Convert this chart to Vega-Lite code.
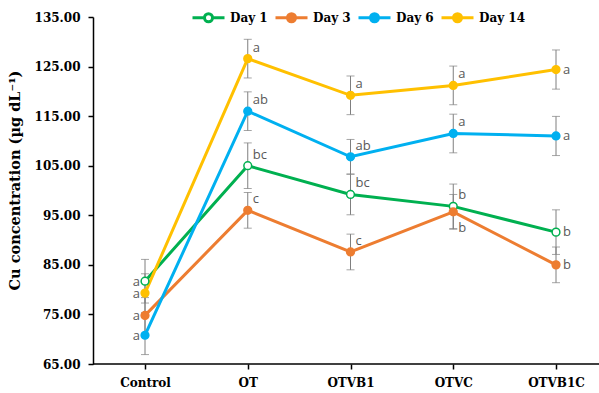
{
  "$schema": "https://vega.github.io/schema/vega-lite/v6.json",
  "autosize": "none",
  "width": 506,
  "height": 347,
  "padding": {"left": 93, "top": 17, "right": 0, "bottom": 29},
  "background": "white",
  "config": {"view": {"stroke": null}},
  "data": {"values": [
    {"Treatment": "Control", "Day": "Day 1", "value": 81.7, "err": 4.4, "letter": "a"},
    {"Treatment": "Control", "Day": "Day 3", "value": 74.8, "err": 3.6, "letter": "a"},
    {"Treatment": "Control", "Day": "Day 6", "value": 70.8, "err": 3.9, "letter": "a"},
    {"Treatment": "Control", "Day": "Day 14", "value": 79.3, "err": 3.9, "letter": "a"},
    {"Treatment": "OT", "Day": "Day 1", "value": 105.0, "err": 4.6, "letter": "bc"},
    {"Treatment": "OT", "Day": "Day 3", "value": 96.0, "err": 3.6, "letter": "c"},
    {"Treatment": "OT", "Day": "Day 6", "value": 116.0, "err": 3.9, "letter": "ab"},
    {"Treatment": "OT", "Day": "Day 14", "value": 126.6, "err": 3.9, "letter": "a"},
    {"Treatment": "OTVB1", "Day": "Day 1", "value": 99.2, "err": 4.1, "letter": "bc"},
    {"Treatment": "OTVB1", "Day": "Day 3", "value": 87.6, "err": 3.6, "letter": "c"},
    {"Treatment": "OTVB1", "Day": "Day 6", "value": 106.8, "err": 3.5, "letter": "ab"},
    {"Treatment": "OTVB1", "Day": "Day 14", "value": 119.2, "err": 3.9, "letter": "a"},
    {"Treatment": "OTVC", "Day": "Day 1", "value": 96.8, "err": 4.5, "letter": "b"},
    {"Treatment": "OTVC", "Day": "Day 3", "value": 95.7, "err": 3.5, "letter": "b"},
    {"Treatment": "OTVC", "Day": "Day 6", "value": 111.5, "err": 3.9, "letter": "a"},
    {"Treatment": "OTVC", "Day": "Day 14", "value": 121.2, "err": 3.9, "letter": "a"},
    {"Treatment": "OTVB1C", "Day": "Day 1", "value": 91.6, "err": 4.5, "letter": "b"},
    {"Treatment": "OTVB1C", "Day": "Day 3", "value": 85.0, "err": 3.6, "letter": "b"},
    {"Treatment": "OTVB1C", "Day": "Day 6", "value": 111.0, "err": 3.95, "letter": "a"},
    {"Treatment": "OTVB1C", "Day": "Day 14", "value": 124.4, "err": 3.95, "letter": "a"}
  ]},
  "encoding": {
    "x": {
      "field": "Treatment", "type": "nominal",
      "sort": ["Control", "OT", "OTVB1", "OTVC", "OTVB1C"],
      "scale": {"type": "point", "range": [52, 463], "padding": 0},
      "axis": {
        "title": null, "domain": false, "ticks": true, "tickColor": "black", "tickWidth": 1.5, "tickSize": 5,
        "labelFont": "DejaVu Serif", "labelFontWeight": "bold", "labelFontSize": 12, "labelColor": "black",
        "labelPadding": 8, "labelAngle": 0, "grid": false
      }
    },
    "y": {
      "field": "value", "type": "quantitative",
      "scale": {"domain": [65, 135], "nice": false, "zero": false},
      "axis": {
        "title": "Cu concentration  (µg dL⁻¹)",
        "values": [65, 75, 85, 95, 105, 115, 125, 135], "format": ".2f",
        "grid": false, "domainColor": "black", "domainWidth": 1.5, "tickColor": "black", "tickWidth": 1.5, "tickSize": 5,
        "labelFont": "DejaVu Serif", "labelFontWeight": "bold", "labelFontSize": 12, "labelColor": "black", "labelPadding": 8,
        "titleFont": "DejaVu Serif", "titleFontWeight": "bold", "titleFontSize": 14.5, "titleColor": "black",
        "titleX": -78, "titleY": 163, "titleAngle": -90, "titleBaseline": "middle", "titleAlign": "center"
      }
    }
  },
  "layer": [
    {
      "data": {"values": [{"v": 65}]},
      "mark": {"type": "rule", "color": "black", "strokeWidth": 1.5},
      "encoding": {"x": null, "y": {"field": "v", "type": "quantitative"}}
    },
    {
      "mark": {"type": "errorbar", "ticks": {"size": 8, "color": "#7f7f7f", "thickness": 1}, "color": "#7f7f7f", "thickness": 1},
      "encoding": {
        "yError": {"field": "err"},
        "detail": {"field": "Day", "type": "nominal"}
      }
    },
    {
      "mark": {"type": "line", "strokeWidth": 3},
      "encoding": {
        "stroke": {
          "field": "Day", "type": "nominal",
          "scale": {"domain": ["Day 1", "Day 3", "Day 6", "Day 14"], "range": ["#00B050", "#ED7D31", "#00B0F0", "#FFC000"]},
          "legend": {
            "title": null, "orient": "none", "legendX": 98, "legendY": -17, "direction": "horizontal", "columns": 4,
            "symbolType": "M-1,0H-0.25M0.25,0H1M-0.25,0A0.25,0.25 0 1,0 0.25,0A0.25,0.25 0 1,0 -0.25,0Z",
            "symbolSize": 1024, "symbolStrokeWidth": 3, "labelOffset": 4, "columnPadding": 1, "padding": 0,
            "labelFont": "DejaVu Serif", "labelFontWeight": "bold", "labelFontSize": 12, "labelColor": "black"
          }
        },
        "detail": {"field": "Day", "type": "nominal"}
      }
    },
    {
      "mark": {"type": "point", "filled": false, "strokeWidth": 1.5, "size": 60, "opacity": 1},
      "encoding": {
        "stroke": {
          "field": "Day", "type": "nominal",
          "scale": {"domain": ["Day 1", "Day 3", "Day 6", "Day 14"], "range": ["#00B050", "#ED7D31", "#00B0F0", "#FFC000"]},
          "legend": {
            "title": null, "orient": "none", "legendX": 98, "legendY": -17, "direction": "horizontal", "columns": 4,
            "symbolType": "M-1,0H-0.25M0.25,0H1M-0.25,0A0.25,0.25 0 1,0 0.25,0A0.25,0.25 0 1,0 -0.25,0Z",
            "symbolSize": 1024, "symbolStrokeWidth": 3, "labelOffset": 4, "columnPadding": 1, "padding": 0,
            "labelFont": "DejaVu Serif", "labelFontWeight": "bold", "labelFontSize": 12, "labelColor": "black"
          }
        },
        "fill": {
          "field": "Day", "type": "nominal",
          "scale": {"domain": ["Day 1", "Day 3", "Day 6", "Day 14"], "range": ["#ffffff", "#ED7D31", "#00B0F0", "#FFC000"]},
          "legend": {
            "title": null, "orient": "none", "legendX": 98, "legendY": -17, "direction": "horizontal", "columns": 4,
            "symbolType": "M-1,0H-0.25M0.25,0H1M-0.25,0A0.25,0.25 0 1,0 0.25,0A0.25,0.25 0 1,0 -0.25,0Z",
            "symbolSize": 1024, "symbolStrokeWidth": 3, "labelOffset": 4, "columnPadding": 1, "padding": 0,
            "labelFont": "DejaVu Serif", "labelFontWeight": "bold", "labelFontSize": 12, "labelColor": "black"
          }
        }
      }
    },
    {
      "transform": [{"filter": "datum.Treatment == 'Control'"}],
      "mark": {"type": "text", "align": "right", "baseline": "middle", "dx": -5, "dy": 1, "font": "Open Sans", "fontSize": 13, "color": "#595959"},
      "encoding": {"text": {"field": "letter"}}
    },
    {
      "transform": [{"filter": "(datum.Treatment == 'OT' || datum.Treatment == 'OTVB1' || datum.Treatment == 'OTVC') && !(datum.Treatment == 'OTVC' && datum.Day == 'Day 3')"}],
      "mark": {"type": "text", "align": "left", "baseline": "middle", "dx": 5, "dy": -11, "font": "Open Sans", "fontSize": 13, "color": "#595959"},
      "encoding": {"text": {"field": "letter"}}
    },
    {
      "transform": [{"filter": "datum.Treatment == 'OTVC' && datum.Day == 'Day 3'"}],
      "mark": {"type": "text", "align": "left", "baseline": "middle", "dx": 5, "dy": 16, "font": "Open Sans", "fontSize": 13, "color": "#595959"},
      "encoding": {"text": {"field": "letter"}}
    },
    {
      "transform": [{"filter": "datum.Treatment == 'OTVB1C'"}],
      "mark": {"type": "text", "align": "left", "baseline": "middle", "dx": 7, "dy": 0, "font": "Open Sans", "fontSize": 13, "color": "#595959"},
      "encoding": {"text": {"field": "letter"}}
    }
  ]
}
